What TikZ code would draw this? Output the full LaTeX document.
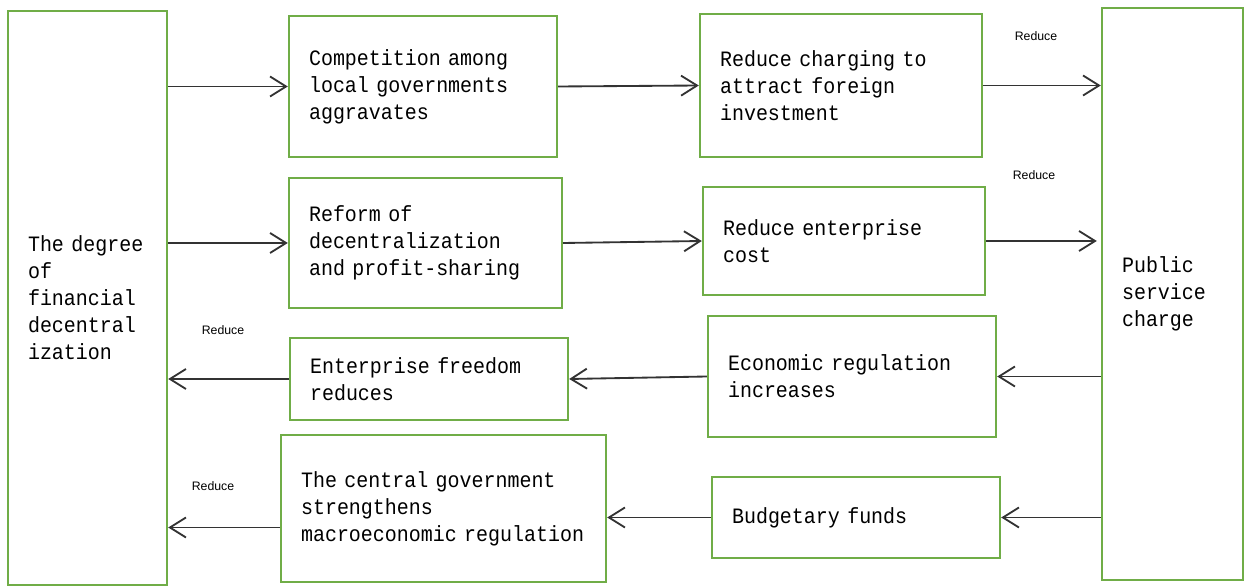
\documentclass[tikz,border=0pt]{standalone}
\usepackage{fontspec}
\usepackage{tikz}
\usetikzlibrary{arrows.meta}
\newfontfamily\boxfont{Liberation Mono}[FakeStretch=0.91, WordSpace=1.4]
\newfontfamily\smallfont{Liberation Sans}
\definecolor{boxgreen}{RGB}{112,173,71}

\begin{document}
\begin{tikzpicture}[x=0.02cm, y=-0.02cm,
		chain box/.style={draw=boxgreen, line width=1.4pt, inner xsep=0.4cm, inner ysep=0pt,
			align=left, font=\boxfont\fontsize{12.5}{15.4}\selectfont},
		flow/.style={draw=black!80, line width=1.05pt, -{Straight Barb[length=0.32cm, width=0.4cm]}},
		tag/.style={font=\smallfont\fontsize{7}{8}\selectfont}]
			\useasboundingbox (0,0) rectangle (1248,587);
			% outer boxes
			\node[chain box, minimum width=3.18cm, minimum height=11.48cm, text width=2.38cm] (degree) at (87.5,298) {The~degree\\of\\financial\\decentral\\ization};
			\node[chain box, minimum width=2.82cm, minimum height=11.44cm, text width=2.02cm] (charge) at (1172.5,294) {Public\\service\\charge};
			% upper chain
			\node[chain box, minimum width=5.36cm, minimum height=2.82cm, text width=4.56cm] (compete) at (423,86.5) {Competition~among\\local~governments\\aggravates};
			\node[chain box, minimum width=5.64cm, minimum height=2.86cm, text width=4.84cm] (attract) at (841,85.5) {Reduce~charging~to\\attract foreign\\investment};
			\node[chain box, minimum width=5.46cm, minimum height=2.6cm, text width=4.66cm] (reform) at (425.5,243) {Reform of\\decentralization\\and~profit-sharing};
			\node[chain box, minimum width=5.64cm, minimum height=2.16cm, text width=4.84cm] (cost) at (844,241) {Reduce~enterprise\\cost};
			% lower chain
			\node[chain box, minimum width=5.76cm, minimum height=2.42cm, text width=4.96cm] (regul) at (852,376.5) {Economic~regulation\\increases};
			\node[chain box, minimum width=5.56cm, minimum height=1.64cm, text width=4.76cm] (freedom) at (429,379) {Enterprise~freedom\\reduces};
			\node[chain box, minimum width=5.76cm, minimum height=1.62cm, text width=4.96cm] (budget) at (856,517.5) {Budgetary funds};
			\node[chain box, minimum width=6.5cm, minimum height=2.94cm, text width=5.7cm] (central) at (443.5,508.5) {The~central~government\\strengthens\\macroeconomic~regulation};
			% labels
			\node[tag] (r1) at (1036,36) {Reduce};
			\node[tag] (r2) at (1034,175) {Reduce};
			\node[tag] (r3) at (223,330) {Reduce};
			\node[tag] (r4) at (213,486) {Reduce};
			% arrows
			\draw[flow] (degree.east |- compete.west) -- (compete.west);
			\draw[flow] (compete.east) -- (attract.west);
			\draw[flow] (attract.east) -- (attract.east -| charge.west);
			\draw[flow] (degree.east |- reform.west) -- (reform.west);
			\draw[flow] (reform.east) -- (cost.west);
			\draw[flow] (cost.east) -- ([xshift=-0.08cm]cost.east -| charge.west);
			\draw[flow] (regul.east -| charge.west) -- (regul.east);
			\draw[flow] (regul.west) -- (freedom.east);
			\draw[flow] (freedom.west) -- (freedom.west -| degree.east);
			\draw[flow] (budget.east -| charge.west) -- (budget.east);
			\draw[flow] (budget.west) -- (budget.west -| central.east);
			\draw[flow] ([yshift=-0.38cm]central.west) -- ([yshift=-0.38cm]central.west -| degree.east);
		\end{tikzpicture}
\end{document}
